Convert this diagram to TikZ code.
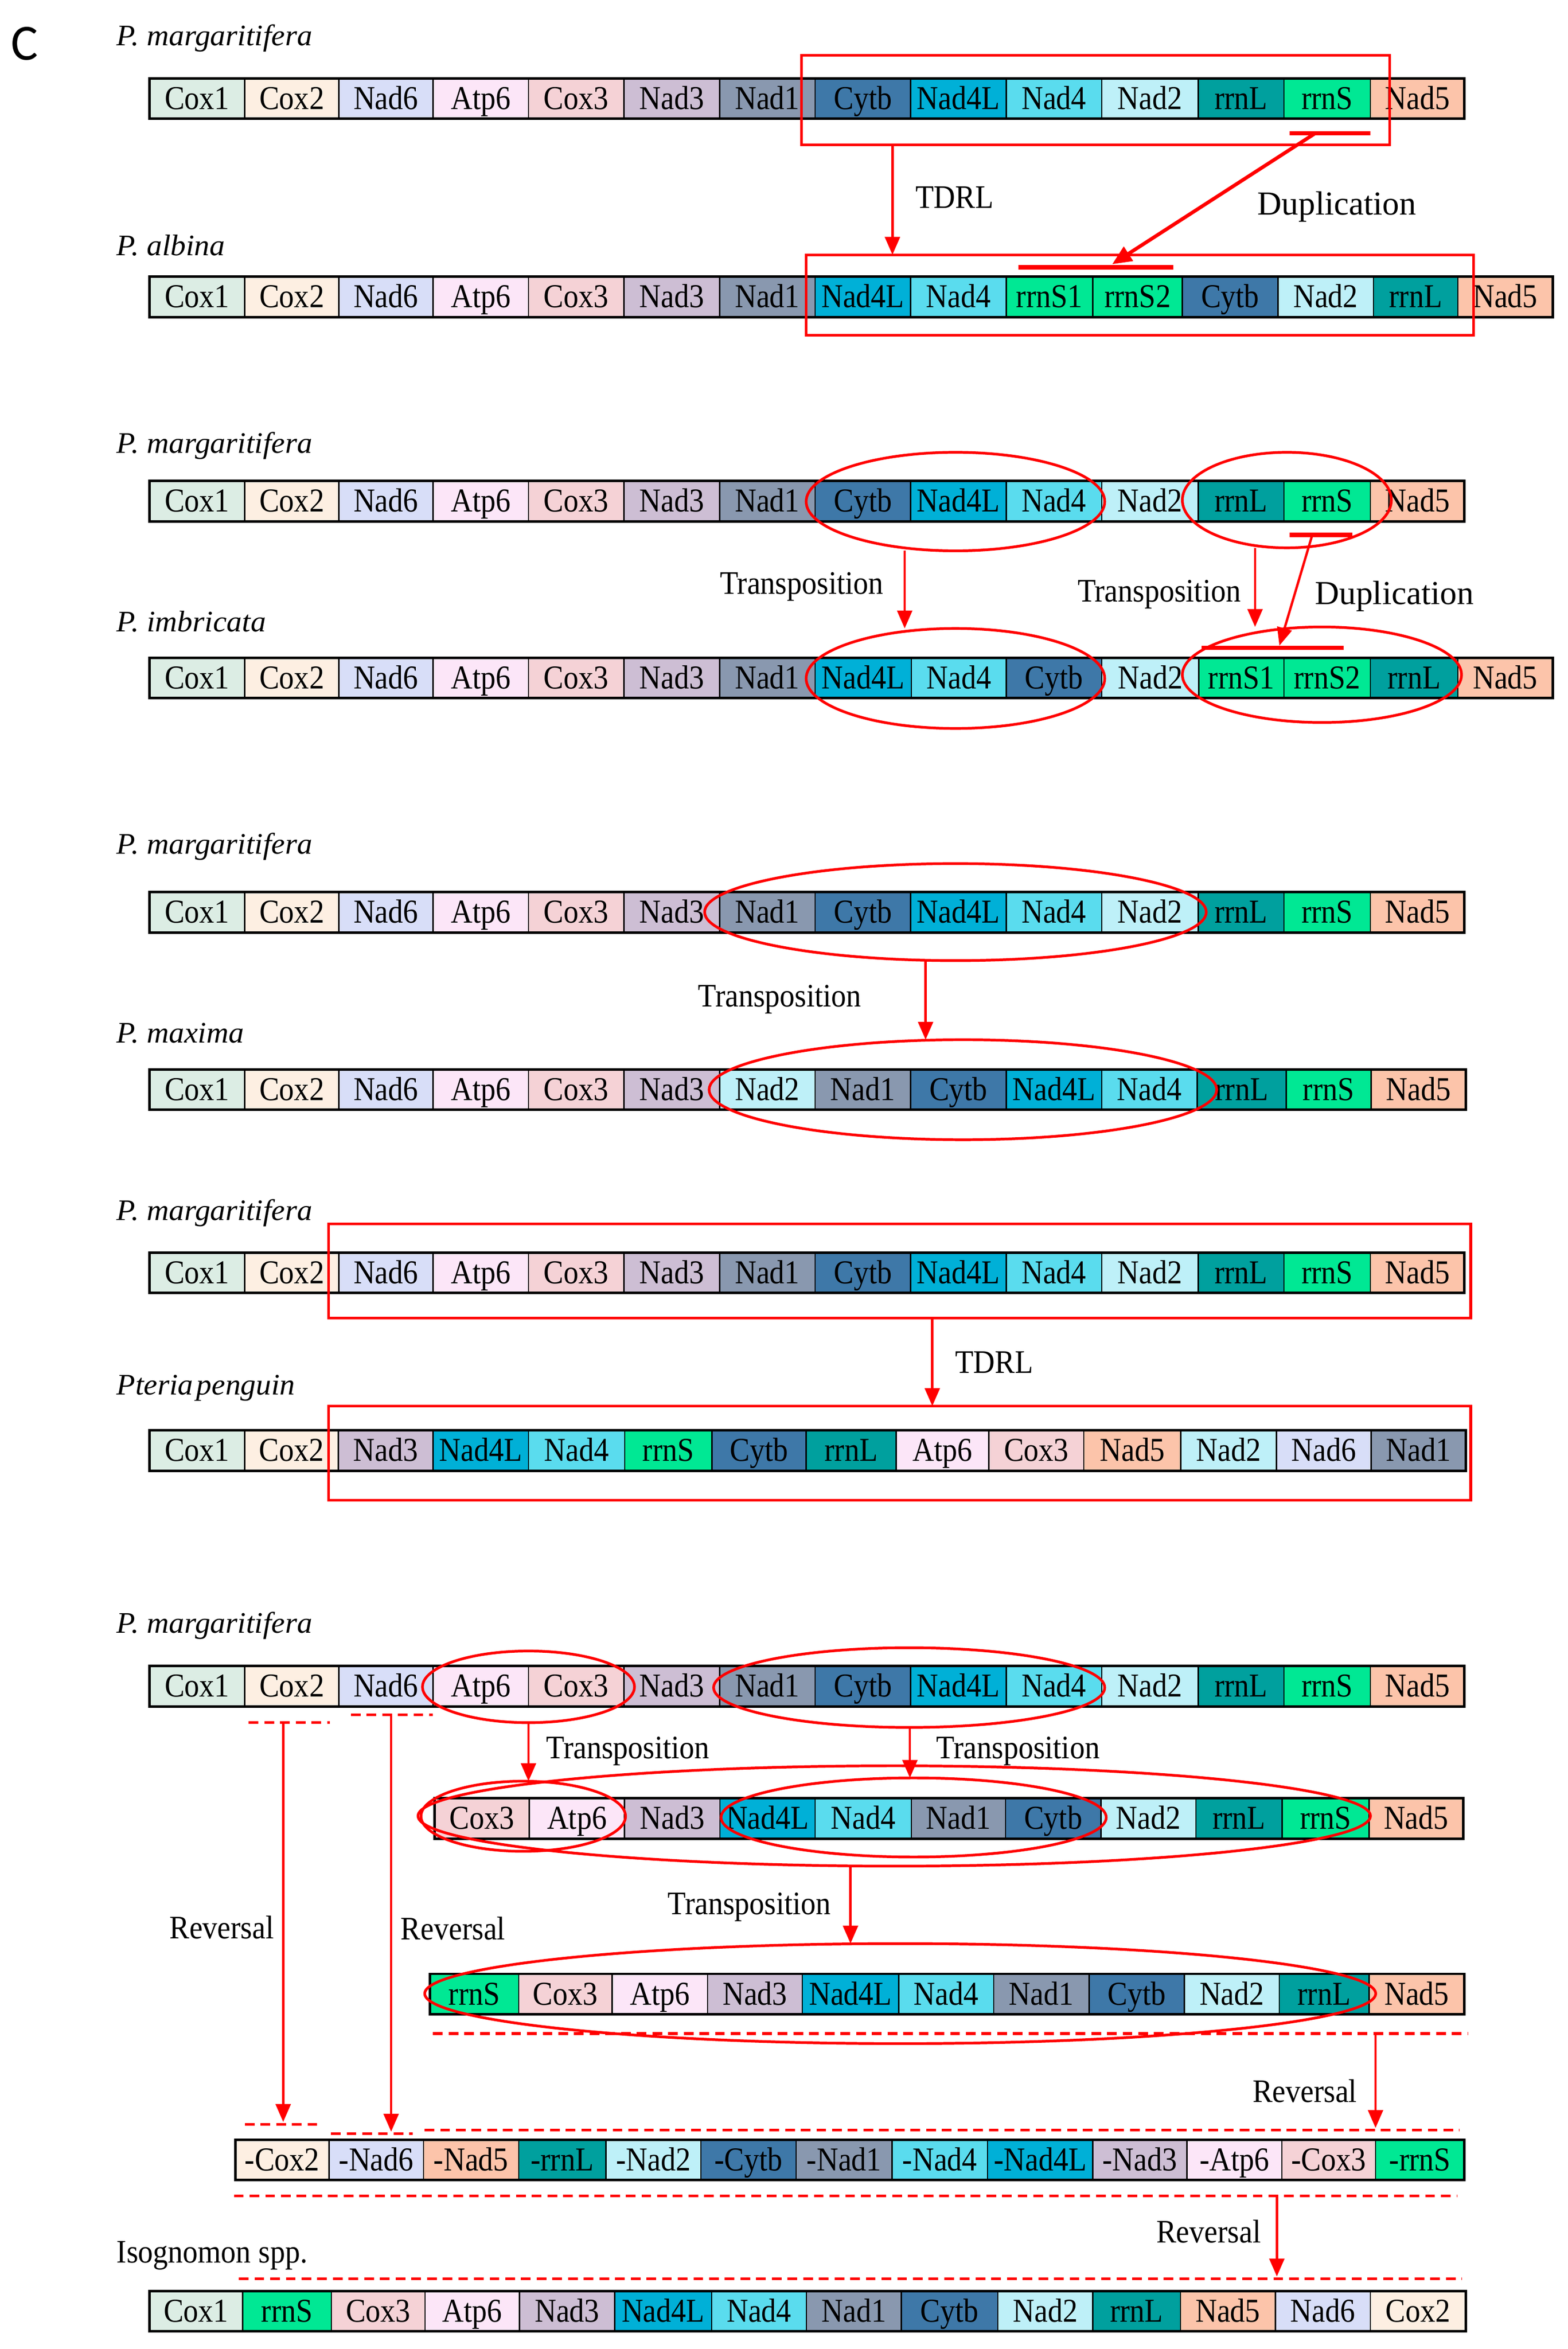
\documentclass[tikz,border=0pt]{standalone}
\usepackage{fontspec}
\setmainfont{Liberation Serif}
\newfontfamily\cfont{Carlito}
\usepackage{graphicx}
\usetikzlibrary{shapes.geometric,arrows.meta}

\definecolor{cox1}{HTML}{DCEDE4}
\definecolor{cox2}{HTML}{FDEFE2}
\definecolor{nad6}{HTML}{D8DEF8}
\definecolor{atp6}{HTML}{FCE6F8}
\definecolor{cox3}{HTML}{F5D2D6}
\definecolor{nad3}{HTML}{CDBED4}
\definecolor{nad1}{HTML}{8998AF}
\definecolor{cytb}{HTML}{3E78A8}
\definecolor{nadfl}{HTML}{00B0D7}
\definecolor{nad4}{HTML}{5ADCEE}
\definecolor{nad2}{HTML}{BEF0F8}
\definecolor{rrnl}{HTML}{00A09E}
\definecolor{rrns}{HTML}{00E894}
\definecolor{nad5}{HTML}{FCC4AA}
\definecolor{myred}{HTML}{FF0000}

\tikzset{
  gene/.style={draw=black, line width=0.9pt, inner sep=0pt, outer sep=0pt,
    minimum height=27pt, text height=14.4pt, text depth=0pt,
    font=\fontsize{20}{24}\selectfont},
  rowframe/.style={draw=black, line width=1.7pt},
  redell/.style={ellipse, draw=myred, line width=1.8pt, inner sep=0pt, outer sep=0pt},
  redbox/.style={rectangle, draw=myred, line width=1.8pt, inner sep=0pt, outer sep=0pt},
  redarr/.style={draw=myred, line width=1.6pt, -{Triangle[length=12pt,width=10pt]}},
  duparr/.style={draw=myred, line width=2.4pt, -{Triangle[length=13pt,width=11pt]}},
  redbar/.style={draw=myred, line width=3pt},
  reddash/.style={draw=myred, line width=1.8pt, dash pattern=on 6.5pt off 4pt},
  lab/.style={anchor=base, inner sep=0pt, font=\fontsize{20}{24}\selectfont},
  labbig/.style={anchor=base, inner sep=0pt, font=\fontsize{22.5}{26}\selectfont},
  sp/.style={anchor=base west, inner sep=0pt, font=\fontsize{19}{22}\selectfont\itshape},
}

\newcommand\spname[1]{\scalebox{1.08}[1.05]{#1}}
\newcommand\tl[1]{\scalebox{1}[1.1]{#1}}

\newcommand\generow[4]{%
  \xdef\gx{#2}%
  \foreach \t/\c/\w [count=\i] in {#4} {%
    \pgfmathsetmacro\cx{\gx+\w/2}%
    \node[gene, fill=\c, minimum width=\w pt] (#1-\i) at (\cx,#3) {\scalebox{1}[1.12]{\t}};%
    \pgfmathsetmacro\nx{\gx+\w}%
    \xdef\gx{\nx}%
    \xdef\lastidx{\i}%
  }%
  \draw[rowframe] (#1-1.north west) rectangle (#1-\lastidx.south east);%
}

\begin{document}
\begin{tikzpicture}[x=1pt,y=-1pt]
\fill[white] (0,0) rectangle (1050,1573.6);
\useasboundingbox (0,0) rectangle (1050,1573.6);

% panel letter
\node[anchor=base west, inner sep=0pt, font=\cfont\fontsize{34}{40}\selectfont] (panel) at (7.3,40.3) {C};

% species labels
\node[sp] (s1) at (78,30.5) {\spname{P. margaritifera}};
\node[sp] (s2) at (78,171) {\spname{P. albina}};
\node[sp] (s3) at (78,303.6) {\spname{P. margaritifera}};
\node[sp] (s4) at (78,423.2) {\spname{P. imbricata}};
\node[sp] (s5) at (78,572.2) {\spname{P. margaritifera}};
\node[sp] (s6) at (78,698.4) {\spname{P. maxima}};
\node[sp] (s7) at (78,817.5) {\spname{P. margaritifera}};
\node[sp] (s8) at (78,934.4) {\spname{Pteria\hspace{2pt}penguin}};
\node[sp] (s9) at (78,1094) {\spname{P. margaritifera}};
\node[lab, anchor=base west] (s11) at (78,1516) {\tl{Isognomon spp.}};

% gene rows
\generow{ra}{100}{66.1}{Cox1/cox1/64, Cox2/cox2/63, Nad6/nad6/63, Atp6/atp6/64, Cox3/cox3/64, Nad3/nad3/64, Nad1/nad1/64, Cytb/cytb/64, Nad4L/nadfl/64, Nad4/nad4/64, Nad2/nad2/64.6, rrnL/rrnl/57.4, rrnS/rrns/58, Nad5/nad5/63}
\generow{rb}{100}{198.9}{Cox1/cox1/64, Cox2/cox2/63, Nad6/nad6/63, Atp6/atp6/64, Cox3/cox3/64, Nad3/nad3/64, Nad1/nad1/64, Nad4L/nadfl/64, Nad4/nad4/64, rrnS1/rrns/58, rrnS2/rrns/60, Cytb/cytb/64, Nad2/nad2/64, rrnL/rrnl/56.6, Nad5/nad5/63.4}
\generow{rc}{100}{335.7}{Cox1/cox1/64, Cox2/cox2/63, Nad6/nad6/63, Atp6/atp6/64, Cox3/cox3/64, Nad3/nad3/64, Nad1/nad1/64, Cytb/cytb/64, Nad4L/nadfl/64, Nad4/nad4/64, Nad2/nad2/64.6, rrnL/rrnl/57.4, rrnS/rrns/58, Nad5/nad5/63}
\generow{rd}{100}{454.2}{Cox1/cox1/64, Cox2/cox2/63, Nad6/nad6/63, Atp6/atp6/64, Cox3/cox3/64, Nad3/nad3/64, Nad1/nad1/64, Nad4L/nadfl/64.5, Nad4/nad4/63.5, Cytb/cytb/64, Nad2/nad2/65, rrnS1/rrns/57, rrnS2/rrns/58, rrnL/rrnl/58.6, Nad5/nad5/63.4}
\generow{re}{100}{611.2}{Cox1/cox1/64, Cox2/cox2/63, Nad6/nad6/63, Atp6/atp6/64, Cox3/cox3/64, Nad3/nad3/64, Nad1/nad1/64, Cytb/cytb/64, Nad4L/nadfl/64, Nad4/nad4/64, Nad2/nad2/64.6, rrnL/rrnl/57.4, rrnS/rrns/58, Nad5/nad5/63}
\generow{rf}{100}{730}{Cox1/cox1/64, Cox2/cox2/63, Nad6/nad6/63, Atp6/atp6/64, Cox3/cox3/64, Nad3/nad3/64, Nad2/nad2/64, Nad1/nad1/64, Cytb/cytb/64, Nad4L/nadfl/64, Nad4/nad4/64, rrnL/rrnl/59.5, rrnS/rrns/57, Nad5/nad5/63.5}
\generow{rg}{100}{852.6}{Cox1/cox1/64, Cox2/cox2/63, Nad6/nad6/63, Atp6/atp6/64, Cox3/cox3/64, Nad3/nad3/64, Nad1/nad1/64, Cytb/cytb/64, Nad4L/nadfl/64, Nad4/nad4/64, Nad2/nad2/64.6, rrnL/rrnl/57.4, rrnS/rrns/58, Nad5/nad5/63}
\generow{rh}{100}{971.7}{Cox1/cox1/64, Cox2/cox2/62.7, Nad3/nad3/63.3, Nad4L/nadfl/64, Nad4/nad4/64.5, rrnS/rrns/58.5, Cytb/cytb/63, rrnL/rrnl/60.4, Atp6/atp6/62, Cox3/cox3/63.6, Nad5/nad5/65, Nad2/nad2/64, Nad6/nad6/63.4, Nad1/nad1/63.6}
\generow{ri}{100}{1129.6}{Cox1/cox1/64, Cox2/cox2/63, Nad6/nad6/63, Atp6/atp6/64, Cox3/cox3/64, Nad3/nad3/64, Nad1/nad1/64, Cytb/cytb/64, Nad4L/nadfl/64, Nad4/nad4/64, Nad2/nad2/64.6, rrnL/rrnl/57.4, rrnS/rrns/58, Nad5/nad5/63}
\generow{rj}{291}{1218.2}{Cox3/cox3/63.6, Atp6/atp6/63.7, Nad3/nad3/64, Nad4L/nadfl/63.7, Nad4/nad4/64.5, Nad1/nad1/63, Cytb/cytb/64, Nad2/nad2/63.6, rrnL/rrnl/57.8, rrnS/rrns/58.2, Nad5/nad5/63}
\generow{rk}{288}{1335.8}{rrnS/rrns/59.4, Cox3/cox3/62.6, Atp6/atp6/64, Nad3/nad3/63.4, Nad4L/nadfl/64.6, Nad4/nad4/63.6, Nad1/nad1/63.9, Cytb/cytb/63.9, Nad2/nad2/63.6, rrnL/rrnl/60, Nad5/nad5/64}
\generow{rl}{157.7}{1446.8}{-Cox2/cox2/62.7, -Nad6/nad6/63.3, -Nad5/nad5/63.7, -rrnL/rrnl/58.4, -Nad2/nad2/63.7, -Cytb/cytb/63.8, -Nad1/nad1/64.3, -Nad4/nad4/63.9, -Nad4L/nadfl/70.5, -Nad3/nad3/63, -Atp6/atp6/63.7, -Cox3/cox3/62.7, -rrnS/rrns/59.6}
\generow{rm}{100}{1548.3}{Cox1/cox1/62.6, rrnS/rrns/59.4, Cox3/cox3/62.7, Atp6/atp6/63.3, Nad3/nad3/63.7, Nad4L/nadfl/65, Nad4/nad4/63.5, Nad1/nad1/63.5, Cytb/cytb/64.7, Nad2/nad2/63.6, rrnL/rrnl/58.7, Nad5/nad5/63.6, Nad6/nad6/63.7, Cox2/cox2/63.8}

% ---------- block 1: TDRL + duplication ----------
\node[redbox, minimum width=394pt, minimum height=60pt] (bA) at (734,67) {};
\node[redbox, minimum width=447pt, minimum height=54pt] (bB) at (763.5,197.7) {};
\coordinate (xA) at (597.8,0);
\draw[redarr] (bA.south -| xA) -- (bB.north -| xA);
\coordinate (dA1) at (864,89.3);
\coordinate (dA2) at (918,89.3);
\coordinate (dAm) at (881,89.3);
\coordinate (dB1) at (682,179);
\coordinate (dB2) at (786,179);
\coordinate (dBm) at (745,177);
\draw[redbar] (dA1) -- (dA2);
\draw[redbar] (dB1) -- (dB2);
\draw[duparr] (dAm) -- (dBm);
\node[lab] (lT1) at (639.5,139.5) {\tl{TDRL}};
\node[labbig] (lD1) at (895.5,144) {Duplication};

% ---------- block 2: imbricata ----------
\node[redell, minimum width=200pt, minimum height=66pt] (eA) at (640,336) {};
\node[redell, minimum width=140pt, minimum height=64pt] (eB) at (862,335) {};
\node[redell, minimum width=200pt, minimum height=67pt] (eC) at (640,454.5) {};
\node[redell, minimum width=187pt, minimum height=64pt] (eD) at (885.5,452) {};
\coordinate (xB) at (606,0);
\draw[redarr] (eA.south -| xB) -- (eC.north -| xB);
\coordinate (xC) at (840.7,0);
\draw[redarr] (eB.south -| xC) -- (eD.north -| xC);
\coordinate (dC1) at (864,358.4);
\coordinate (dC2) at (906,358.4);
\coordinate (dCm) at (879,358.4);
\coordinate (dD1) at (805,434);
\coordinate (dD2) at (900,434);
\coordinate (dDm) at (857,432.5);
\draw[redbar] (dC1) -- (dC2);
\draw[redbar] (dD1) -- (dD2);
\draw[redarr] (dCm) -- (dDm);
\node[lab] (lT2) at (537,398) {\tl{Transposition}};
\node[lab] (lT3) at (776.5,403.3) {\tl{Transposition}};
\node[labbig] (lD2) at (934,404.7) {Duplication};

% ---------- block 3: maxima ----------
\node[redell, minimum width=336pt, minimum height=65pt] (eE) at (640,611) {};
\node[redell, minimum width=340pt, minimum height=67pt] (eF) at (645,730) {};
\coordinate (xD) at (620,0);
\draw[redarr] (eE.south -| xD) -- (eF.north -| xD);
\node[lab] (lT4) at (522.3,674.4) {\tl{Transposition}};

% ---------- block 4: Pteria penguin ----------
\node[redbox, minimum width=765pt, minimum height=63pt] (bC) at (602.7,851.5) {};
\node[redbox, minimum width=765pt, minimum height=63pt] (bD) at (602.7,973.4) {};
\coordinate (xE) at (624.5,0);
\draw[redarr] (bC.south -| xE) -- (bD.north -| xE);
\node[lab] (lT5) at (666,919.7) {\tl{TDRL}};

% ---------- block 5: Isognomon ----------
\node[redell, minimum width=142pt, minimum height=48pt] (eG1) at (354,1130) {};
\node[redell, minimum width=262pt, minimum height=53.4pt] (eG2) at (609,1130.5) {};
\node[redell, minimum width=137pt, minimum height=47pt] (eH1) at (350.5,1216.7) {};
\node[redell, minimum width=258pt, minimum height=53pt] (eH2) at (612,1217.5) {};
\node[redell, minimum width=638pt, minimum height=67.2pt] (eH3) at (599,1216.5) {};
\node[redell, minimum width=637pt, minimum height=67pt] (eJ) at (603,1335.5) {};
\coordinate (xF) at (354,0);
\draw[redarr] (eG1.south -| xF) -- (eH1.north -| xF);
\coordinate (xG) at (609.5,0);
\draw[redarr] (eG2.south -| xG) -- (eH2.north -| xG);
\coordinate (xH) at (569.7,0);
\draw[redarr] (eH3.south -| xH) -- (eJ.north -| xH);
\node[lab] (lT6) at (420.6,1178) {\tl{Transposition}};
\node[lab] (lT7) at (682,1178) {\tl{Transposition}};
\node[lab] (lT8) at (502,1282.5) {\tl{Transposition}};

% dashed marks
\coordinate (q1a) at (166.6,1154);   \coordinate (q1b) at (221,1154);
\coordinate (q2a) at (235,1148.6);   \coordinate (q2b) at (290,1148.6);
\coordinate (q3a) at (164,1423);     \coordinate (q3b) at (214,1423);
\coordinate (q4a) at (221.7,1429.3); \coordinate (q4b) at (276.5,1429.3);
\coordinate (q5a) at (290,1362.3);   \coordinate (q5b) at (983.5,1362.3);
\coordinate (q6a) at (284.4,1426.8); \coordinate (q6b) at (977.7,1426.8);
\coordinate (q7a) at (156.7,1471);   \coordinate (q7b) at (976,1471);
\coordinate (q8a) at (160,1526.5);   \coordinate (q8b) at (979.3,1526.5);
\foreach \k in {1,...,8} { \draw[reddash] (q\k a) -- (q\k b); }

% reversal arrows
\coordinate (v1s) at (189.7,1154);  \coordinate (v1e) at (189.7,1421.5);
\coordinate (v2s) at (262,1148.6);  \coordinate (v2e) at (262,1428);
\coordinate (v3s) at (921.4,1362.3); \coordinate (v3e) at (921.4,1425.5);
\coordinate (v4s) at (855.3,1471);  \coordinate (v4e) at (855.3,1525);
\draw[redarr] (v1s) -- (v1e);
\draw[redarr] (v2s) -- (v2e);
\draw[redarr] (v3s) -- (v3e);
\draw[redarr] (v4s) -- (v4e);
\node[lab] (lR1) at (148.5,1298.7) {\tl{Reversal}};
\node[lab] (lR2) at (303.5,1299.5) {\tl{Reversal}};
\node[lab] (lR3) at (874,1408.3) {\tl{Reversal}};
\node[lab] (lR4) at (809.6,1502.5) {\tl{Reversal}};
\end{tikzpicture}
\end{document}
